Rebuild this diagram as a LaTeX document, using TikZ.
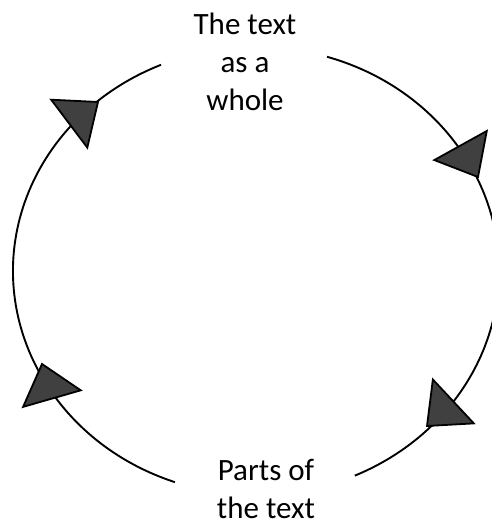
\documentclass[tikz,border=0pt]{standalone}
\usepackage{fontspec}
\setmainfont{Carlito}
\usepackage{tikz}
\usetikzlibrary{calc,positioning}
\definecolor{darkgrey}{HTML}{404040}

\begin{document}
\begin{tikzpicture}[x=1pt,y=1pt,
    cyc/.style={line width=1.9pt},
    head/.style={fill=darkgrey,draw=black,line width=1.8pt,line join=miter},
    label/.style={align=center,font=\fontsize{31}{38}\selectfont,inner sep=0pt}]
        \useasboundingbox (0,0) rectangle (492,527);
        % Define points
        \coordinate (c) at (256,256);
        \coordinate (tr) at ($(c)+(73:243 and 224)$);
        \coordinate (bl) at ($(c)+(250.5:243 and 224)$);
        % Labels
        \node[label] (whole) at (245,465) {The text\\as a\\whole};
        \node[label] (parts) at (266,38) {Parts of\\the text};
        % Arcs of the cycle
        \draw[cyc] (tr) arc[start angle=73, end angle=-66, x radius=243, y radius=224];
        \draw[cyc] (bl) arc[start angle=250.5, end angle=113, x radius=243, y radius=224];
        % Arrow heads
        \foreach \px/\py/\ang in {98/425/37, 478/350/-61, 427/101/-137, 42/163/106}
        {
          \begin{scope}[shift={(\px,\py)}, rotate=\ang]
            \filldraw[head] (0,0) -- (-36,30) -- (-36,-30) -- cycle;
          \end{scope}
        }
\end{tikzpicture}
\end{document}
